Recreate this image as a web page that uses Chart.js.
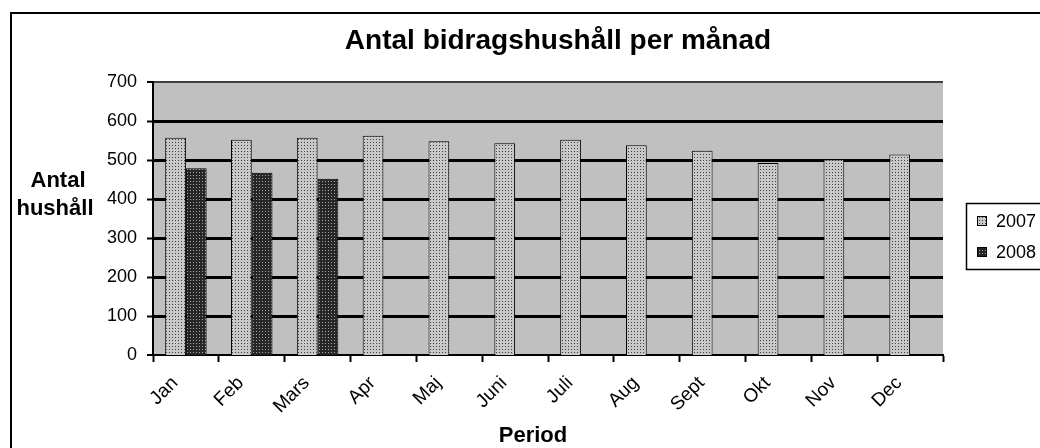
<!DOCTYPE html>
<html>
<head>
<meta charset="utf-8">
<script src="https://cdn.jsdelivr.net/npm/chart.js@4"></script>
<style>
  body { margin: 0; background: #fff; }
  #wrap { position: relative; width: 1040px; height: 448px; }
</style>
</head>
<body>
<div id="wrap"><canvas id="barChart"></canvas></div>
<script>
// data
const months = ['Jan', 'Feb', 'Mars', 'Apr', 'Maj', 'Juni', 'Juli', 'Aug', 'Sept', 'Okt', 'Nov', 'Dec'];
const values2007 = [557, 552, 557, 562, 548, 543, 552, 538, 524, 492, 502, 514];
const values2008 = [479, 467, 452, null, null, null, null, null, null, null, null, null];
const seriesNames = ['2007', '2008'];
const yMin = 0, yMax = 700, yStep = 100;

const chartTitle = 'Antal bidragshushåll per månad';
const yTitle = ['Antal', 'hushåll'];
const xTitle = 'Period';

const FONT = "'Liberation Sans', Arial, sans-serif";

// dotted fill patterns like the old excel ones
function makePattern(base, dot) {
    const c = document.createElement('canvas');
    c.width = 3; c.height = 3;
    const g = c.getContext('2d');
    g.fillStyle = base;
    g.fillRect(0, 0, 3, 3);
    g.fillStyle = dot;
    g.fillRect(1, 1, 1, 1);
    return g.createPattern(c, 'repeat');
}
const fill2007 = makePattern('#c8c8c8', '#404040');
const fill2008 = makePattern('#262626', '#a8a8a8');

// plot background + frame, titles, legend
const decorations = {
    id: 'decorations',
    beforeDraw(chart) {
        const { ctx, chartArea: a } = chart;
        ctx.save();
        ctx.fillStyle = '#c0c0c0';
        ctx.fillRect(a.left, a.top, a.right - a.left, a.bottom - a.top);
        ctx.restore();
    },
    afterDraw(chart) {
        const { ctx } = chart;
        ctx.save();
        // outer frame
        ctx.strokeStyle = '#000';
        ctx.lineWidth = 2;
        ctx.strokeRect(11, 13, 1100, 500);

        ctx.fillStyle = '#000';
        ctx.textAlign = 'center';
        ctx.textBaseline = 'alphabetic';
        ctx.font = 'bold 28px ' + FONT;
        ctx.fillText(chartTitle, 558, 49);

        ctx.font = 'bold 22px ' + FONT;
        ctx.fillText(yTitle[0], 58, 187);
        ctx.fillText(yTitle[1], 55, 215);
        ctx.fillText(xTitle, 533, 442);

        // legend
        ctx.lineWidth = 1.5;
        ctx.strokeRect(966.5, 203.5, 100, 66);
        ctx.font = '18px ' + FONT;
        ctx.textAlign = 'left';
        ctx.textBaseline = 'middle';
        chart.data.datasets.forEach((ds, i) => {
            const cy = 221 + i * 31;
            ctx.fillStyle = ds.backgroundColor;
            ctx.fillRect(977, cy - 5, 10, 10);
            ctx.lineWidth = 1;
            ctx.strokeStyle = '#000';
            ctx.strokeRect(977.5, cy - 4.5, 9, 9);
            ctx.fillStyle = '#000';
            ctx.fillText(ds.label, 996, cy + 1);
        });
        ctx.restore();
    }
};

const ctx = document.getElementById('barChart').getContext('2d');

const barChart = new Chart(ctx, {
    type: 'bar',
    data: {
        labels: months,
        datasets: [{
            label: seriesNames[0],
            data: values2007,
            backgroundColor: fill2007,
            borderColor: '#000',
            borderWidth: 1,
            categoryPercentage: 0.63,
            barPercentage: 1.0
        },
        {
            label: seriesNames[1],
            data: values2008,
            backgroundColor: fill2008,
            borderColor: '#000',
            borderWidth: 1,
            categoryPercentage: 0.63,
            barPercentage: 1.0
        }]
    },
    options: {
        responsive: true,
        maintainAspectRatio: false,
        animation: false,
        layout: { padding: { left: 0, right: 97, top: 82, bottom: 0 } },
        plugins: {
            legend: { display: false },
            title: { display: false },
            tooltip: { enabled: false }
        },
        scales: {
            x: {
                grid: {
                    offset: true,
                    drawOnChartArea: false,
                    drawTicks: true,
                    tickLength: 7,
                    tickWidth: 2,
                    tickColor: '#000'
                },
                border: { color: '#000', width: 2 },
                ticks: {
                    minRotation: 45,
                    maxRotation: 45,
                    autoSkip: false,
                    padding: 10,
                    labelOffset: -11,
                    color: '#000',
                    font: { family: FONT, size: 19 }
                },
                afterFit(scale) { scale.height = 93; }
            },
            y: {
                min: yMin,
                max: yMax,
                ticks: {
                    stepSize: yStep,
                    padding: 10,
                    color: '#000',
                    font: { family: FONT, size: 18 }
                },
                grid: {
                    color: c => c.tick && c.tick.value === yMax ? '#404040' : '#000',
                    lineWidth: c => c.tick && c.tick.value === yMax ? 2 : (c.tick && c.tick.value === 0 ? 0 : 3),
                    tickLength: 6,
                    tickWidth: 2,
                    tickColor: '#000'
                },
                border: { color: '#000', width: 2 },
                afterFit(scale) { scale.width = 153; }
            }
        }
    },
    plugins: [decorations]
});
</script>
</body>
</html>
